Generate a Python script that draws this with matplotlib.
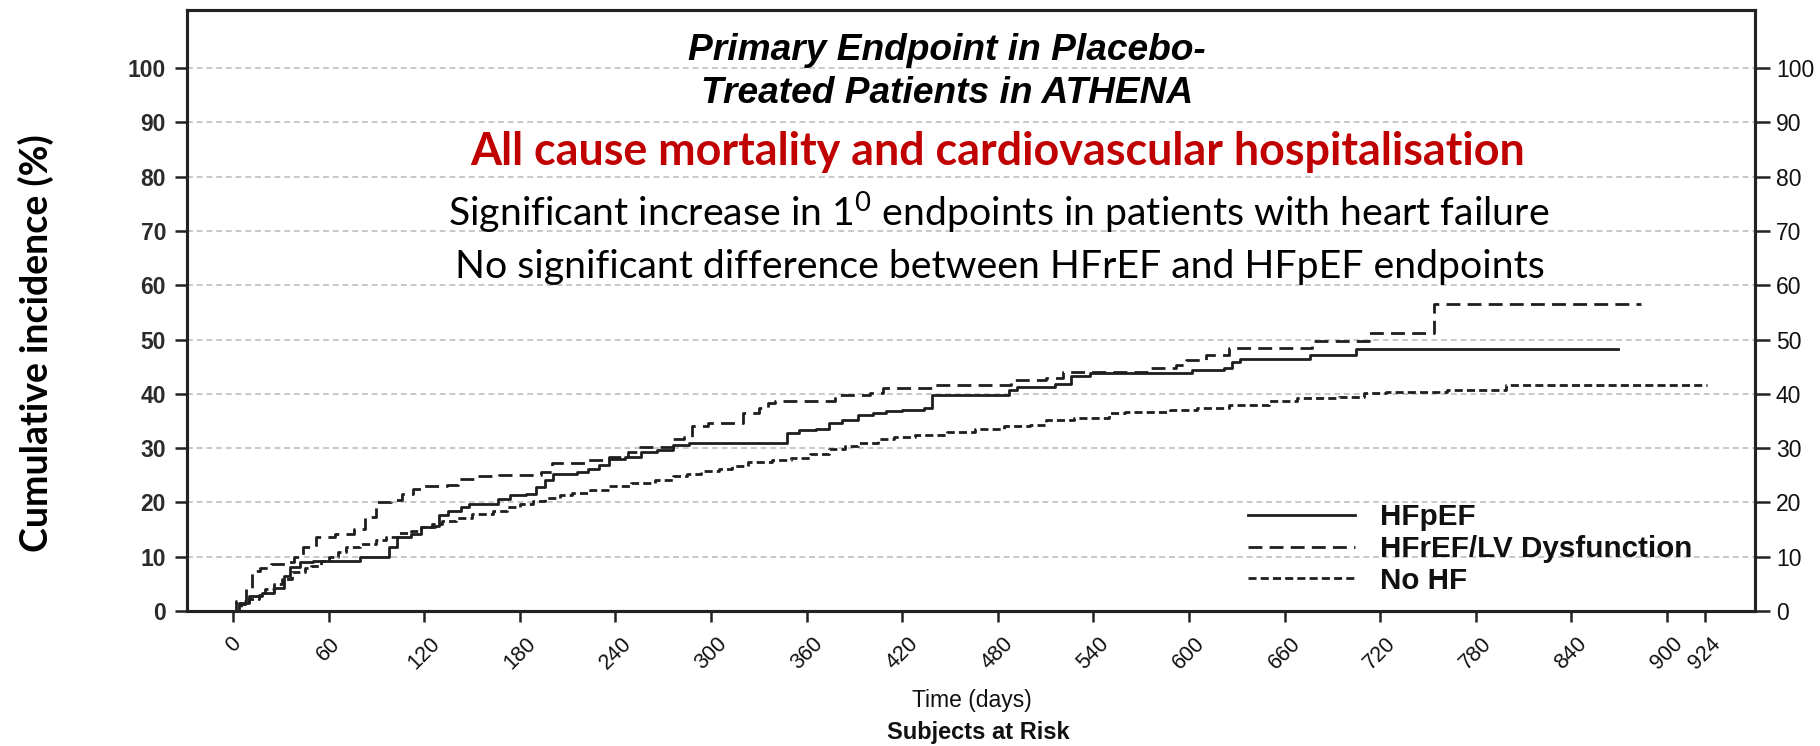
import matplotlib
matplotlib.use('Agg')
import matplotlib.pyplot as plt

# ---------------- data ----------------
hfpef_days = [0, 4, 10, 18, 26, 32, 36, 42, 50, 80, 98, 103, 112, 118, 127, 129, 135, 143, 148,
              166, 174, 184, 190, 196, 201, 216, 223, 230, 236, 246, 256, 266, 276, 286, 298,
              348, 355, 366, 374, 382, 392, 402, 410, 420, 434, 439, 487, 492, 516, 526, 538,
              602, 622, 627, 632, 676, 705, 869]
hfpef_pct = [0, 1.5, 2.8, 3.4, 4.3, 6.5, 8.1, 9.0, 9.3, 10.0, 11.7, 13.6, 14.2, 15.4, 15.7, 17.6, 18.5, 19.1, 19.8,
             20.7, 21.3, 21.6, 22.8, 24.1, 25.3, 25.6, 26.2, 26.9, 28.0, 28.4, 29.3, 29.6, 30.6, 30.9, 31.0,
             32.7, 33.3, 33.6, 34.6, 35.2, 36.1, 36.5, 36.9, 37.0, 37.3, 39.8, 40.7, 41.2, 41.9, 43.2, 43.8,
             44.4, 44.8, 45.9, 46.4, 47.1, 48.2, 48.2]

hfref_days = [0, 2, 8, 12, 17, 24, 34, 38, 44, 52, 64, 76, 83, 90, 99, 106, 113, 120, 134, 141, 152,
              167, 193, 200, 222, 236, 248, 255, 276, 283, 288, 298, 320, 330, 336, 340, 378, 400,
              408, 440, 488, 510, 521, 575, 592, 598, 611, 625, 677, 713, 754, 884]
hfref_pct = [0, 1.9, 4.0, 7.4, 7.9, 8.6, 9.0, 9.9, 11.7, 13.6, 14.2, 15.1, 17.3, 20.1, 20.4, 21.6, 22.5, 23.0, 23.3, 24.4, 24.8,
             25.0, 25.6, 27.2, 27.8, 28.4, 29.2, 30.2, 31.6, 32.1, 34.0, 34.7, 36.4, 37.4, 38.3, 38.6, 39.8, 40.1,
             41.0, 41.7, 42.6, 42.9, 44.1, 44.8, 45.4, 46.3, 47.2, 48.5, 49.7, 51.2, 56.6, 56.6]

nohf_days = [0, 5, 10, 16, 20, 26, 31, 37, 45, 49, 55, 60, 66, 71, 80, 90, 96, 104, 112, 118, 125, 131,
             140, 150, 163, 172, 180, 188, 196, 205, 213, 224, 236, 250, 265, 276, 285, 294, 305, 313,
             323, 338, 350, 362, 374, 384, 392, 405, 415, 428, 448, 466, 484, 500, 510, 528, 550, 560,
             588, 605, 625, 650, 668, 694, 710, 724, 762, 799, 925]
nohf_pct = [0, 1.2, 2.2, 3.0, 4.0, 5.0, 5.9, 7.1, 8.0, 8.3, 9.2, 9.9, 10.8, 11.7, 12.3, 13.0, 13.6, 14.3, 14.8, 15.4, 16.0, 16.5,
            17.2, 17.9, 18.5, 19.2, 19.8, 20.3, 20.8, 21.3, 21.8, 22.3, 23.0, 23.5, 24.1, 24.8, 25.3, 25.7, 26.2, 26.7,
            27.4, 27.9, 28.2, 28.9, 29.8, 30.4, 30.9, 31.6, 32.0, 32.4, 33.0, 33.6, 34.0, 34.3, 35.2, 35.5, 36.4, 36.7,
            37.0, 37.3, 37.9, 38.6, 39.2, 39.5, 40.1, 40.4, 40.7, 41.7, 41.7]

series_labels = ['HFpEF', 'HFrEF/LV Dysfunction', 'No HF']
x_ticks = [0, 60, 120, 180, 240, 300, 360, 420, 480, 540, 600, 660, 720, 780, 840, 900, 924]
y_ticks = [0, 10, 20, 30, 40, 50, 60, 70, 80, 90, 100]

title_lines = ['Primary Endpoint in Placebo-', 'Treated Patients in ATHENA']
red_line = 'All cause mortality and cardiovascular hospitalisation'
note_lines = ['Significant increase in 1$^{\\mathregular{0}}$ endpoints in patients with heart failure',
              'No significant difference between HFrEF and HFpEF endpoints']
y_label = 'Cumulative incidence (%)'
x_label = 'Time (days)'
risk_label = 'Subjects at Risk'

# ---------------- figure ----------------
W, H = 1820, 746
fig = plt.figure(figsize=(W / 100, H / 100), dpi=100)
fx = lambda px: px / W
fy = lambda py: 1 - py / H

ax = fig.add_axes([fx(187), fy(611), (1755 - 187) / W, (611 - 10) / H])
ax.set_xlim(-28.9, 955.3)
ax.set_ylim(0, 110.7)

line_col = '#1e1e1e'
lw = 2.0
l1, = ax.step(hfpef_days, hfpef_pct, where='post', color=line_col, lw=lw, linestyle='-')
l2, = ax.step(hfref_days, hfref_pct, where='post', color=line_col, lw=lw, linestyle=(0, (5.0, 2.6)))
l3, = ax.step(nohf_days, nohf_pct, where='post', color=line_col, lw=lw, linestyle=(0, (2.9, 1.5)))

# grid
ax.set_axisbelow(True)
ax.grid(axis='y', color='#c8c8c8', lw=1.4, linestyle=(0, (3, 2)))
ax.grid(axis='x', visible=False)

for s in ax.spines.values():
    s.set_linewidth(2.2)
    s.set_color('#222222')

ax.set_xticks(x_ticks)
ax.set_xticklabels([str(t) for t in x_ticks], rotation=45, ha='center',
                   fontsize=15.5, family='Liberation Sans', color='#111111')
ax.tick_params(axis='x', length=8, width=1.8, pad=8, color='#222222')

ax.set_yticks(y_ticks)
ax.set_yticklabels([str(t) for t in y_ticks], fontsize=16.5, family='Liberation Sans',
                   fontweight='bold', color='#2b2b2b')
ax.tick_params(axis='y', left=True, right=False, length=8.6, width=1.8, pad=6.5, color='#222222')

ax2 = ax.twinx()
ax2.set_ylim(ax.get_ylim())
ax2.set_yticks(y_ticks)
ax2.set_yticklabels([str(t) for t in y_ticks], fontsize=16.5, family='Liberation Sans', color='#111111')
ax2.tick_params(axis='y', right=True, length=10.8, width=1.8, pad=4.3, color='#222222')
for s in ax2.spines.values():
    s.set_linewidth(2.2)
    s.set_color('#222222')

# legend
leg = ax.legend([l1, l2, l3], series_labels, loc='center left',
                bbox_to_anchor=(fx(1248), fy(549)), bbox_transform=fig.transFigure,
                frameon=False, prop=dict(family='Liberation Sans', weight='bold', size=21.3),
                handlelength=3.6, handletextpad=0.87, labelspacing=0.12,
                borderpad=0, borderaxespad=0)
for t in leg.get_texts():
    t.set_color('#111111')

# texts
renderer = fig.canvas.get_renderer()

def fit(t, target, axis='w'):
    for _ in range(3):
        bb = t.get_window_extent(renderer)
        cur = bb.width if axis == 'w' else bb.height
        t.set_fontsize(t.get_fontsize() * target / cur)

t1 = fig.text(fx(947), fy(60), title_lines[0], ha='center', va='baseline',
              family='Liberation Sans', weight='bold', style='italic', size=26)
t2 = fig.text(fx(947), fy(103), title_lines[1], ha='center', va='baseline',
              family='Liberation Sans', weight='bold', style='italic', size=26)
fit(t1, 539 * 0.96)
t2.set_fontsize(t1.get_fontsize())

tr = fig.text(fx(998), fy(165), red_line, ha='center', va='baseline',
              family='Lato', weight='bold', color='#C00000', size=30)
fit(tr, 1055)
tn1 = fig.text(fx(999), fy(227), note_lines[0], ha='center', va='baseline',
               family='Lato', color='black', size=28)
fit(tn1, 1101)
tn2 = fig.text(fx(1000), fy(278), note_lines[1], ha='center', va='baseline',
               family='Lato', color='black', size=28)
tn2.set_fontsize(tn1.get_fontsize())

ty = fig.text(fx(36), fy(343), y_label, rotation=90, ha='center', va='center',
              family='Lato', weight='bold', color='black', size=24)
fit(ty, 418, axis='h')

fig.text(fx(972), fy(700), x_label, ha='center', va='center',
         family='Liberation Sans', size=16.5, color='#111111')
fig.text(fx(978), fy(732), risk_label, ha='center', va='center',
         family='Liberation Sans', weight='bold', size=17, color='#111111')

fig.savefig('out.png', dpi=100)
